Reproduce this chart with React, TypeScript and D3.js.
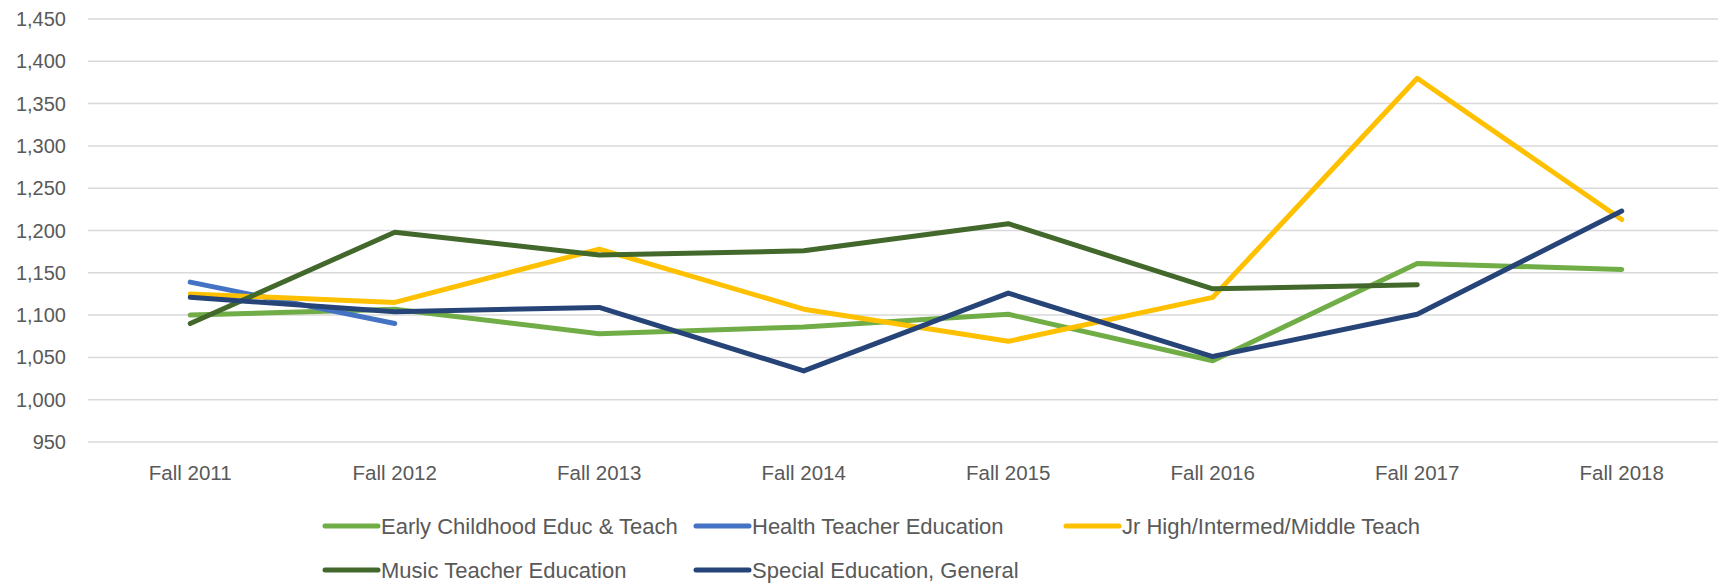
import React from "react";
import * as d3 from "d3";

const categories = ["Fall 2011", "Fall 2012", "Fall 2013", "Fall 2014", "Fall 2015", "Fall 2016", "Fall 2017", "Fall 2018"];
const earlyChildhood = [1100, 1107, 1078, 1086, 1101, 1046, 1161, 1154];
const healthTeacher = [1139, 1090, null, null, null, null, null, null];
const jrHigh = [1125, 1115, 1178, 1107, 1069, 1121, 1380, 1213];
const musicTeacher = [1090, 1198, 1171, 1176, 1208, 1131, 1136, null];
const specialEd = [1121, 1104, 1109, 1034, 1126, 1051, 1101, 1223];
const yTicks = [950, 1000, 1050, 1100, 1150, 1200, 1250, 1300, 1350, 1400, 1450];

const seriesList = [
  { name: "Early Childhood Educ & Teach", values: earlyChildhood, color: "#70AD47" },
  { name: "Health Teacher Education", values: healthTeacher, color: "#4472C4" },
  { name: "Jr High/Intermed/Middle Teach", values: jrHigh, color: "#FFC000" },
  { name: "Music Teacher Education", values: musicTeacher, color: "#43682B" },
  { name: "Special Education, General", values: specialEd, color: "#264478" },
];

const W = 1718;
const H = 586;
const FONT = "'Liberation Sans', Arial, sans-serif";

export default function App() {
  const x = d3.scalePoint<string>().domain(categories).range([88, 1724]).padding(0.5);
  const y = d3.scaleLinear().domain([950, 1450]).range([442, 19]);
  const line = d3
    .line<number | null>()
    .defined((d) => d != null)
    .x((_, i) => x(categories[i]) as number)
    .y((d) => y(d as number));
  const fmt = d3.format(",");

  const legendCols = [325, 696, 1066];
  const legendRows = [526, 570];

  return (
    <div style={{ position: "absolute", left: 0, top: 0 }}>
      <svg width={W} height={H} style={{ display: "block", background: "#fff" }}>
        <g>
          {yTicks.map((t) => (
            <g key={t}>
              <line x1={88} x2={W} y1={y(t)} y2={y(t)} stroke="#D9D9D9" strokeWidth={1.5} />
              <text x={66} y={y(t)} dy="0.35em" textAnchor="end" fontFamily={FONT} fontSize={20} fill="#595959">
                {fmt(t)}
              </text>
            </g>
          ))}
        </g>
        <g>
          {categories.map((c) => (
            <text key={c} x={x(c)} y={473} dy="0.35em" textAnchor="middle" fontFamily={FONT} fontSize={20.5} fill="#595959">
              {c}
            </text>
          ))}
        </g>
        <g>
          {seriesList.map((s) => (
            <path
              key={s.name}
              d={line(s.values) || ""}
              fill="none"
              stroke={s.color}
              strokeWidth={5}
              strokeLinecap="round"
              strokeLinejoin="round"
            />
          ))}
        </g>
        <g>
          {seriesList.map((s, i) => {
            const lx = legendCols[i % 3];
            const ly = legendRows[Math.floor(i / 3)];
            return (
              <g key={s.name}>
                <line x1={lx} x2={lx + 53} y1={ly} y2={ly} stroke={s.color} strokeWidth={5} strokeLinecap="round" />
                <text x={lx + 56} y={ly} dy="0.35em" fontFamily={FONT} fontSize={22} fill="#595959">
                  {s.name}
                </text>
              </g>
            );
          })}
        </g>
      </svg>
    </div>
  );
}
